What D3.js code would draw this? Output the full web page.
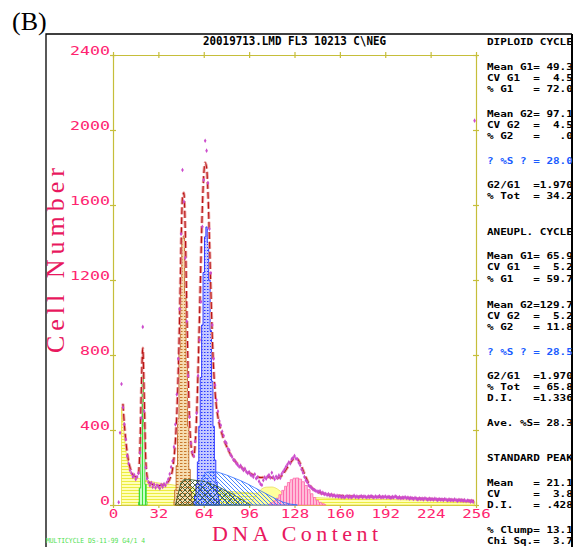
<!DOCTYPE html>
<html>
<head>
<meta charset="utf-8">
<script src="https://cdn.jsdelivr.net/npm/d3@7"></script>
<style>
  body { margin: 0; background: #fff; }
  svg { display: block; }
</style>
</head>
<body>
<div id="chart"></div>
<script>
// ---- data ----
var xTicks = [0, 32, 64, 96, 128, 160, 192, 224, 256];
var yTicks = [0, 400, 800, 1200, 1600, 2000, 2400];

// raw counts, one per channel starting at channel 4
var firstChannel = 4;
var counts = [
  15, 385, 645, 520, 432, 350, 262, 222, 185, 170,
  150, 160, 138, 150, 170, 280, 464, 950, 500, 200,
  140, 122, 104, 118, 96, 110, 92, 105, 98, 88,
  108, 96, 112, 104, 120, 138, 165, 203, 235, 310,
  430, 590, 780, 1045, 1445, 1787, 1618, 1317, 980, 690,
  470, 330, 282, 262, 340, 490, 690, 880, 1084, 1484,
  1733, 1943, 1890, 1717, 1472, 1237, 960, 780, 640, 560,
  500, 448, 425, 392, 370, 338, 330, 300, 292, 268,
  256, 240, 236, 222, 214, 204, 210, 196, 186, 194,
  178, 170, 176, 162, 158, 150, 164, 142, 148, 126,
  112, 107, 132, 148, 140, 152, 160, 146, 172, 150,
  138, 152, 144, 158, 144, 166, 178, 190, 204, 216,
  228, 222, 244, 252, 262, 248, 244, 226, 212, 190,
  172, 150, 132, 122, 106, 98, 92, 84, 80, 76,
  72, 70, 74, 62, 66, 58, 60, 54, 58, 50,
  56, 48, 52, 46, 50, 44, 48, 42, 46, 40,
  44, 48, 42, 46, 40, 44, 50, 42, 46, 40,
  44, 48, 42, 46, 44, 40, 46, 42, 48, 44,
  40, 46, 42, 44, 48, 40, 44, 42, 46, 40,
  44, 42, 38, 44, 40, 46, 42, 38, 42, 36,
  40, 38, 42, 36, 40, 34, 38, 36, 32, 38,
  34, 30, 36, 32, 34, 30, 36, 32, 28, 34,
  30, 32, 28, 34, 30, 26, 32, 28, 30, 26,
  32, 28, 24, 30, 26, 28, 24, 30, 26, 22,
  28, 24, 26, 22, 26, 20, 24, 22, 18, 22,
  16, 2050
];

// model fit [channel, count]
var fitCurve = [
  [7,540],[8,430],[9,345],[10,280],[11,232],[12,200],[13,178],[14,163],[15,154],[16,150],
  [17,152],[18,170],[19,300],[20,620],[21,837],[22,580],[23,260],[24,155],[25,128],[26,118],
  [28,110],[30,106],[32,104],[34,105],[36,108],[38,116],[40,138],[42,190],[43,250],[44,340],
  [45,480],[46,700],[47,1000],[48,1380],[49,1640],[50,1665],[51,1450],[52,1060],[53,700],[54,440],
  [55,320],[56,270],[57,258],[58,330],[59,480],[60,720],[61,1000],[62,1300],[63,1580],[64,1760],
  [65,1825],[66,1800],[67,1660],[68,1420],[69,1150],[70,900],[71,720],[72,600],[73,520],[74,470],
  [75,430],[76,400],[78,352],[80,315],[82,282],[84,255],[86,235],[88,218],[90,205],[92,192],
  [94,182],[96,172],[98,164],[100,156],[102,150],[104,147],[106,148],[108,150],[110,150],[112,146],
  [114,142],[116,143],[118,150],[120,166],[122,188],[124,212],[126,234],[128,248],[130,246],[132,222],
  [134,186],[136,148],[138,116],[140,94],[142,80],[145,68],[150,58],[155,53],[160,50],[170,46],
  [180,44],[190,42],[200,40],[210,36],[220,33],[230,30],[240,27],[250,24],[255,22]
];

// fitted components [channel, count]
var debris = [
  [6,520],[7,450],[8,365],[9,295],[10,245],[11,205],[12,180],[13,165],[14,156],[15,150],
  [16,146],[18,142],[20,138],[25,128],[30,120],[35,114],[40,110],[45,104],[50,98],[55,93],
  [60,88],[70,80],[80,74],[90,68],[100,62],[110,56],[120,50],[130,45],[140,40],[150,37],
  [170,33],[190,30],[210,27],[230,24],[255,20]
];
var aggregates = [[96,0],[100,40],[104,80],[108,95],[112,96],[116,85],[120,60],[124,30],[128,8],[130,0]];
var standardPeak = [[18,15],[19,90],[20,380],[21,690],[22,420],[23,110],[24,20]];
var diploidG1 = [
  [43,25],[44,80],[45,210],[46,460],[47,830],[48,1200],[49,1420],[50,1435],[51,1130],[52,760],
  [53,420],[54,190],[55,70],[56,20]
];
var aneuploidG1 = [
  [57,20],[58,50],[59,110],[60,230],[61,420],[62,680],[63,960],[64,1240],[65,1430],[66,1483],
  [67,1400],[68,1200],[69,930],[70,660],[71,420],[72,240],[73,120],[74,55],[75,20]
];
var aneuploidG2 = [
  [110,5],[112,12],[114,22],[116,36],[118,55],[120,78],[122,100],[124,120],[126,135],[128,143],
  [130,144],[132,138],[134,124],[136,104],[138,82],[140,60],[142,40],[144,25],[146,14],[148,7],[150,2]
];
var diploidS = [[44,0],[46,60],[48,120],[50,135],[55,135],[60,130],[65,125],[70,110],[75,95],[80,75],[85,55],[90,32],[95,10],[97,0]];
var aneuploidS = [[58,0],[60,60],[62,120],[64,160],[66,175],[70,178],[74,175],[80,160],[85,145],[90,130],[95,112],[100,92],[105,72],[110,52],[115,32],[120,15],[125,5],[130,0]];

var titleText = '20019713.LMD FL3 10213 C\\NEG';
var panelText = [
  'DIPLOID CYCLE',
  'Mean G1= 49.3', 'CV G1  =  4.5', '% G1   = 72.0',
  'Mean G2= 97.1', 'CV G2  =  4.5', '% G2   =   .0',
  '? %S ? = 28.0',
  'G2/G1  =1.970', '% Tot  = 34.2',
  'ANEUPL. CYCLE',
  'Mean G1= 65.9', 'CV G1  =  5.2', '% G1   = 59.7',
  'Mean G2=129.7', 'CV G2  =  5.2', '% G2   = 11.8',
  '? %S ? = 28.5',
  'G2/G1  =1.970', '% Tot  = 65.8', 'D.I.   =1.336',
  'Ave. %S= 28.3',
  'STANDARD PEAK',
  'Mean   = 21.1', 'CV     =  3.8', 'D.I.   = .428',
  '% Clump= 13.1', 'Chi Sq.=  3.7'
];

// ---- setup ----
var W = 573, H = 547;
var olive = '#c6be3a';
var tickPink = '#ff2470';
var titlePink = '#e8185e';
var mono = '"DejaVu Sans Mono", "Liberation Mono", monospace';
var serif = '"Liberation Serif", "DejaVu Serif", serif';

var svg = d3.select('#chart').append('svg')
    .attr('width', W)
    .attr('height', H);

var x = d3.scaleLinear().domain([0, 256]).range([113, 476]);
var y = d3.scaleLinear().domain([0, 2400]).range([505, 55]);

// hatch patterns
var defs = svg.append('defs');
function addPattern(id, w, h, bg, strokes) {
    var p = defs.append('pattern')
        .attr('id', id)
        .attr('patternUnits', 'userSpaceOnUse')
        .attr('width', w)
        .attr('height', h);
    if (bg) p.append('rect').attr('width', w).attr('height', h).attr('fill', bg);
    strokes.forEach(function(s) {
        p.append('path').attr('d', s.d).attr('stroke', s.c)
            .attr('stroke-width', s.w || 1).attr('fill', 'none');
    });
}
addPattern('debris', 4, 3, '#ffffb8', [{ d: 'M0,1.5H4', c: '#ecec40' }]);
addPattern('green', 3, 4, '#c8ffc8', [{ d: 'M1.5,0V4', c: '#38e038' }]);
addPattern('orange', 4, 3, '#f6dcb0', [{ d: 'M0,1.5H2.5', c: '#c8782c' }]);
addPattern('blue', 3, 3, '#c4c8ff', [{ d: 'M0,1.5H1.5', c: '#2838ff' }]);
addPattern('pink', 3, 4, '#ffbcd8', [{ d: 'M1.5,0V4', c: '#ff6cae' }]);
addPattern('dipS', 5, 5, null, [
    { d: 'M0,0L5,5M-1,4L1,6M4,-1L6,1', c: '#2a4a1c', w: 0.8 },
    { d: 'M0,5L5,0M-1,1L1,-1M4,6L6,4', c: '#2a4a1c', w: 0.8 }
]);
addPattern('aneuS', 4, 4, null, [{ d: 'M0,0L4,4M-1,3L1,5M3,-1L5,1', c: '#3478ff', w: 0.9 }]);

// outer black frame
svg.append('path')
    .attr('d', 'M46,547V34H572')
    .attr('fill', 'none').attr('stroke', '#000').attr('stroke-width', 1.3);
svg.append('line')
    .attr('x1', 572).attr('y1', 34).attr('x2', 572).attr('y2', 547)
    .attr('stroke', '#000').attr('stroke-width', 2);

// ---- axes ----
function styleAxis(g, crossing, vertical) {
    g.attr('font-family', mono).attr('font-size', 12.5);
    g.select('.domain').attr('stroke', olive).attr('stroke-width', 1.2);
    g.selectAll('.tick line').attr('stroke', olive).attr('stroke-width', 1.2);
    if (vertical) g.selectAll('.tick line').attr('x1', -crossing).attr('x2', crossing);
    else g.selectAll('.tick line').attr('y1', -crossing).attr('y2', crossing);
}

var xAxis = svg.append('g')
    .attr('transform', 'translate(0,' + y(0) + ')')
    .call(d3.axisBottom(x).tickValues(xTicks).tickFormat(d3.format('d')).tickSizeOuter(0));
styleAxis(xAxis, 3, false);
xAxis.selectAll('.tick text')
    .attr('y', 13).attr('dy', 0)
    .attr('fill', tickPink)
    .attr('textLength', function(d) { return String(d).length * 9.5; })
    .attr('lengthAdjust', 'spacingAndGlyphs');

var yAxis = svg.append('g')
    .attr('transform', 'translate(' + x(0) + ',0)')
    .call(d3.axisLeft(y).tickValues(yTicks).tickFormat(d3.format('d')).tickSizeOuter(0));
styleAxis(yAxis, 3, true);
yAxis.selectAll('.tick text')
    .attr('x', -3).attr('y', -1).attr('dy', 0)
    .attr('fill', tickPink)
    .attr('textLength', function(d) { return String(d).length * 10; })
    .attr('lengthAdjust', 'spacingAndGlyphs');

var topAxis = svg.append('g')
    .attr('transform', 'translate(0,' + y(2400) + ')')
    .call(d3.axisTop(x).tickValues(xTicks).tickSizeOuter(0).tickFormat(''));
styleAxis(topAxis, 3, false);

var rightAxis = svg.append('g')
    .attr('transform', 'translate(' + x(256) + ',0)')
    .call(d3.axisRight(y).tickValues(yTicks).tickSizeOuter(0).tickFormat(''));
styleAxis(rightAxis, 3, true);

// ---- components ----
function component(data, fill, stroke, curve) {
    svg.append('path')
        .datum(data)
        .attr('d', d3.area().curve(curve)
            .x(function(d) { return x(d[0]); })
            .y0(y(0))
            .y1(function(d) { return y(d[1]); }))
        .attr('fill', fill)
        .attr('stroke', stroke)
        .attr('stroke-width', 0.8);
}

component(debris, 'url(#debris)', '#e8e040', d3.curveMonotoneX);
component(aggregates, '#ffff9c', '#e8dc60', d3.curveMonotoneX);
component(aneuploidG2, 'url(#pink)', '#ff6aaa', d3.curveStep);
component(standardPeak, 'url(#green)', '#30d030', d3.curveStep);
component(diploidG1, 'url(#orange)', '#b85a10', d3.curveStep);
component(aneuploidG1, 'url(#blue)', '#0a14ff', d3.curveStep);
component(diploidS, 'url(#dipS)', '#2a4a1c', d3.curveLinear);
component(aneuploidS, 'url(#aneuS)', '#2f6cff', d3.curveLinear);

// ---- fit line (dashed) ----
var fitLine = d3.line()
    .curve(d3.curveMonotoneX)
    .x(function(d) { return x(d[0]); })
    .y(function(d) { return y(d[1]); });

svg.append('path').datum(fitCurve)
    .attr('d', fitLine)
    .attr('fill', 'none')
    .attr('stroke', '#eaa0a0')
    .attr('stroke-width', 3)
    .attr('stroke-dasharray', '7,3');
svg.append('path').datum(fitCurve)
    .attr('d', fitLine)
    .attr('fill', 'none')
    .attr('stroke', '#b81414')
    .attr('stroke-width', 1.1)
    .attr('stroke-dasharray', '7,3');

// ---- raw data points ----
var points = counts.map(function(v, i) { return [firstChannel + i, v]; });
svg.append('g').selectAll('path')
    .data(points).enter().append('path')
    .attr('d', d3.symbol(d3.symbolDiamond, 6))
    .attr('transform', function(d) { return 'translate(' + x(d[0]) + ',' + y(d[1]) + ')'; })
    .attr('fill', '#cc4ccc');

// ---- texts ----
svg.append('text')
    .attr('x', 12).attr('y', 30)
    .attr('font-family', serif).attr('font-size', 26)
    .text('(B)');

svg.append('text')
    .attr('x', 203).attr('y', 45)
    .attr('font-family', mono).attr('font-weight', 'bold').attr('font-size', 11.5)
    .attr('textLength', 183).attr('lengthAdjust', 'spacingAndGlyphs')
    .text(titleText);

svg.append('text')
    .attr('transform', 'translate(64,' + ((168 + 353) / 2) + ') rotate(-90)')
    .attr('text-anchor', 'middle')
    .attr('font-family', serif).attr('font-size', 26)
    .attr('fill', titlePink)
    .attr('textLength', 185).attr('lengthAdjust', 'spacing')
    .text('Cell Number');

svg.append('text')
    .attr('x', (212 + 378) / 2).attr('y', 541)
    .attr('text-anchor', 'middle')
    .attr('font-family', serif).attr('font-size', 22)
    .attr('fill', titlePink)
    .attr('textLength', 166).attr('lengthAdjust', 'spacing')
    .text('DNA Content');

svg.append('text')
    .attr('x', 46).attr('y', 543)
    .attr('font-family', mono).attr('font-size', 7)
    .attr('fill', '#4ee04e')
    .attr('textLength', 99).attr('lengthAdjust', 'spacingAndGlyphs')
    .text('MULTICYCLE DS-11-99 G4/1 4');

// results panel on the right
var panelBaselines = [45, 70, 81, 92, 117, 128, 139, 164, 188, 199, 235, 259, 270, 282, 308, 319, 330, 355, 379, 390, 401, 426, 461, 486, 497, 508, 533, 544];
svg.append('g').selectAll('text')
    .data(panelText).enter().append('text')
    .attr('x', 487)
    .attr('y', function(d, i) { return panelBaselines[i]; })
    .attr('font-family', mono).attr('font-weight', 'bold').attr('font-size', 9.5)
    .attr('textLength', function(d) { return d.length * 6.6; })
    .attr('lengthAdjust', 'spacingAndGlyphs')
    .attr('fill', function(d) { return d.indexOf('?') === 0 ? '#1a5cff' : '#000'; })
    .attr('xml:space', 'preserve')
    .style('white-space', 'pre')
    .text(function(d) { return d; });
</script>
</body>
</html>
